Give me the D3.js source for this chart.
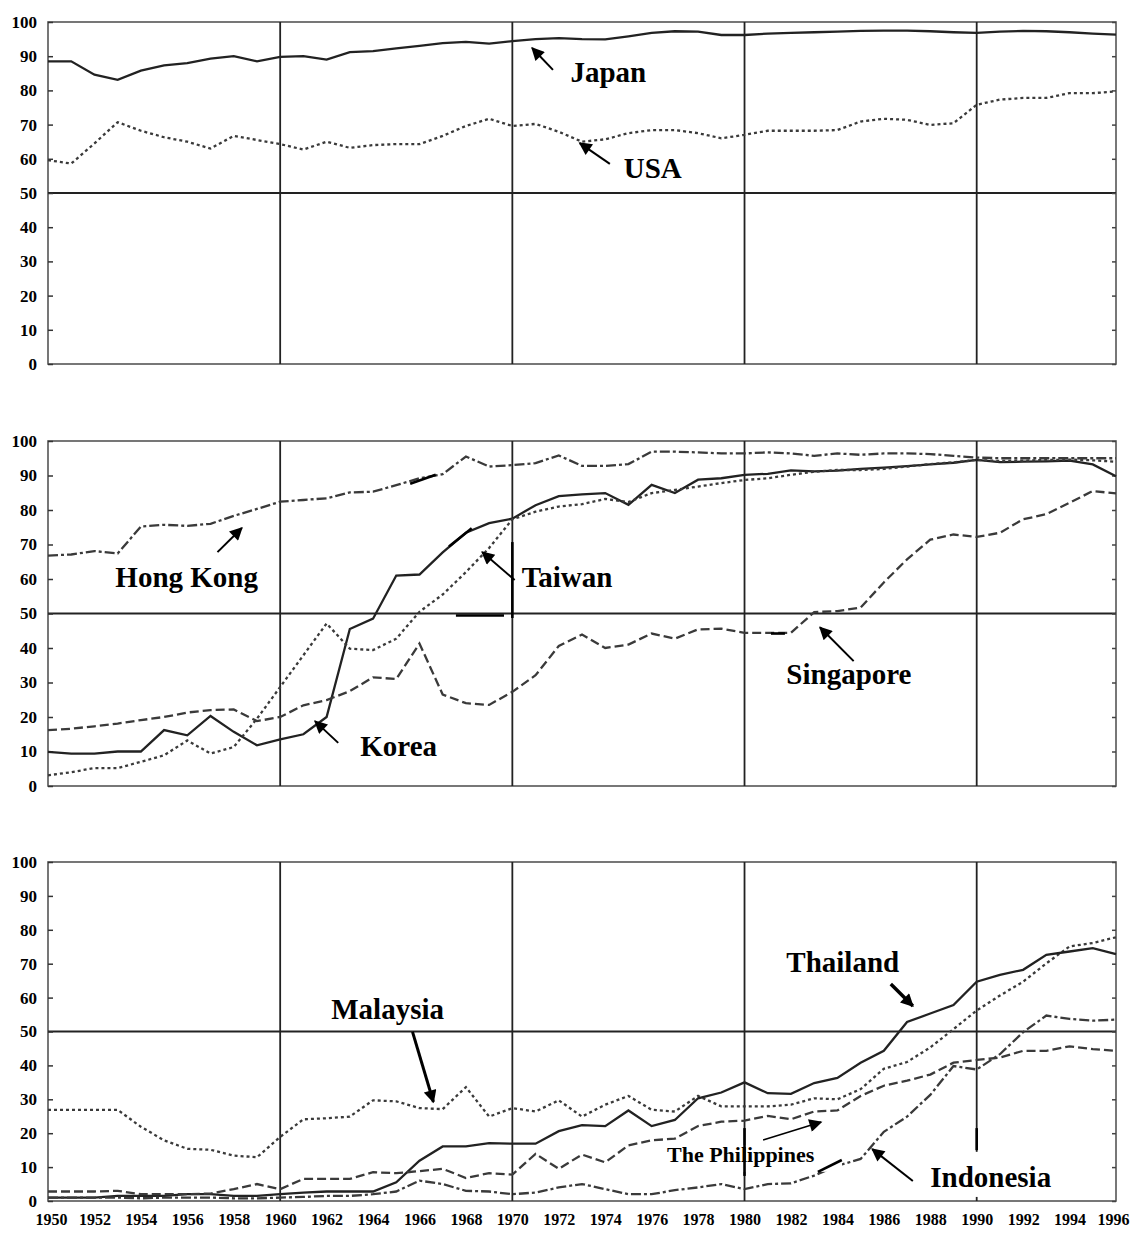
<!DOCTYPE html>
<html>
<head>
<meta charset="utf-8">
<script src="https://cdn.jsdelivr.net/npm/d3@7"></script>
<style>
body { margin: 0; background: #fff; }
</style>
</head>
<body>
<div id="container"></div>
<script>
let w = 1131;
let h = 1233;

// data
let years = d3.range(1950, 1997);
let yTicks = d3.range(0, 101, 10);
let xTicks = d3.range(1950, 1997, 2);
let gridYears = [1960, 1970, 1980, 1990];

let japan = [88.5, 88.5, 84.6, 83.1, 85.8, 87.3, 88, 89.3, 90, 88.5,
  89.8, 90, 89, 91.2, 91.5, 92.3, 93, 93.8, 94.2, 93.7,
  94.4, 95, 95.3, 95, 94.9, 95.8, 96.8, 97.3, 97.2, 96.2,
  96.2, 96.6, 96.8, 97, 97.2, 97.4, 97.5, 97.5, 97.3, 97,
  96.8, 97.2, 97.4, 97.3, 97, 96.6, 96.3];
let usa = [59.6, 58.6, 64.5, 70.7, 68.2, 66.3, 65, 63, 66.7, 65.5,
  64.3, 62.7, 65, 63.2, 64, 64.3, 64.3, 66.7, 69.6, 71.7,
  69.6, 70.2, 67.9, 65, 65.7, 67.5, 68.4, 68.4, 67.5, 66,
  67, 68.2, 68.2, 68.2, 68.4, 70.9, 71.7, 71.4, 69.9, 70.4,
  75.8, 77.3, 77.8, 77.8, 79.2, 79.2, 79.7];

let hongKong = [66.8, 67.1, 68.1, 67.4, 75.2, 75.7, 75.4, 76, 78.3, 80.3,
  82.4, 82.9, 83.4, 85.1, 85.3, 87.2, 89.2, 90.4, 95.5, 92.6,
  93, 93.6, 95.8, 92.8, 92.8, 93.3, 96.9, 96.9, 96.7, 96.4,
  96.4, 96.7, 96.4, 95.7, 96.4, 96, 96.4, 96.4, 96.2, 95.7,
  95.2, 95, 95, 95, 95, 95, 95];
let korea = [9.9, 9.4, 9.4, 10, 10, 16.2, 14.7, 20.3, 15.7, 11.8,
  13.5, 15, 20, 45.5, 48.5, 61, 61.3, 67.7, 73.4, 76.2,
  77.5, 81.4, 84, 84.5, 84.9, 81.5, 87.3, 84.9, 88.8, 89.2,
  90.2, 90.5, 91.5, 91.2, 91.4, 91.9, 92.3, 92.7, 93.2, 93.7,
  94.5, 93.9, 94, 94.1, 94.3, 93.2, 89.8];
let taiwan = [3.1, 4, 5.2, 5.2, 7, 8.9, 13.2, 9.4, 11.3, 19.5,
  28.7, 37.9, 47.1, 39.8, 39.4, 42.7, 50.5, 55.5, 62, 69,
  77.3, 79.5, 81, 81.7, 83.2, 82.3, 84.9, 85.8, 86.8, 87.8,
  88.7, 89.2, 90.2, 91.1, 91.6, 91.6, 91.9, 92.6, 93.3, 93.8,
  94.5, 94.2, 94.3, 94.5, 94.6, 94.4, 94];
let singapore = [16.2, 16.6, 17.3, 18.1, 19.1, 20, 21.3, 22, 22.2, 18.8,
  20, 23.4, 24.9, 27.5, 31.5, 31, 41.3, 26.5, 24, 23.5,
  27.3, 32.1, 40.6, 43.9, 40, 41, 44.2, 42.7, 45.4, 45.6,
  44.4, 44.4, 44.4, 50.4, 50.7, 51.7, 59, 65.7, 71.4, 72.9,
  72.2, 73.4, 77.3, 78.8, 82.1, 85.5, 84.8];

let thailand = [1, 1, 1, 1.5, 1.5, 1.5, 2, 2, 1.5, 1.5,
  2, 2.5, 2.8, 2.8, 2.8, 5.5, 11.9, 16.1, 16.1, 17.1,
  16.9, 16.9, 20.6, 22.4, 22.1, 26.7, 22.1, 23.9, 30.3, 32,
  35, 31.8, 31.6, 34.8, 36.3, 40.8, 44.3, 52.8, 55.3, 57.8,
  64.7, 66.7, 68.2, 72.6, 73.6, 74.6, 72.8];
let malaysia = [26.9, 26.9, 26.9, 26.9, 21.9, 17.9, 15.4, 15.1, 13.4, 12.9,
  18.9, 24.1, 24.4, 24.9, 29.7, 29.4, 27.4, 27.1, 33.6, 24.9,
  27.4, 26.4, 29.7, 24.9, 28.4, 31, 26.9, 26.4, 31, 27.9,
  27.9, 27.9, 28.4, 30.3, 30, 33, 39, 41, 45.3, 50.7,
  56.2, 60.6, 64.7, 70.1, 75.1, 76.1, 77.8];
let philippines = [2.8, 2.8, 2.8, 3, 2, 2, 2, 2.2, 3.5, 5,
  3.5, 6.5, 6.5, 6.5, 8.5, 8.2, 8.8, 9.5, 6.8, 8.2,
  7.8, 13.9, 9.5, 13.7, 11.4, 16.4, 17.9, 18.4, 22.1, 23.4,
  23.7, 25.1, 24.1, 26.4, 26.7, 31, 34, 35.5, 37.3, 40.8,
  41.6, 42.3, 44.3, 44.3, 45.6, 44.8, 44.3];
let indonesia = [1, 1, 1, 1, 0.8, 1, 1, 1, 0.8, 0.8,
  1, 1.2, 1.5, 1.5, 2, 2.8, 6, 5, 3, 2.8,
  2, 2.5, 4, 5, 3.5, 2, 2, 3.2, 4, 5,
  3.5, 5, 5.2, 7.5, 10.4, 12.4, 20.4, 24.9, 31.3, 39.8,
  38.8, 43.3, 49.8, 54.7, 53.7, 53.2, 53.5];

let dashes = {solid: null, dot: "3,3", dash: "9,4", dashdot: "10,3,3,3"};

// panels with their series, label annotations (in data units) and scan retouches
let panels = [
  {top: 22, bottom: 364,
    series: [[japan, "solid"], [usa, "dot"]],
    labels: [
      {text: "Japan", x: 1972.5, y: 82.5, size: 29, from: [1971.75, 86], to: [1970.85, 92.4], sw: 2},
      {text: "USA", x: 1974.8, y: 54.4, size: 29, from: [1974.2, 58.5], to: [1972.9, 64.6], sw: 2}
    ],
    boxes: [], marks: []},
  {top: 441, bottom: 786,
    series: [[hongKong, "dashdot"], [korea, "solid"], [taiwan, "dot"], [singapore, "dash"]],
    labels: [
      {text: "Hong Kong", x: 1952.9, y: 57.7, size: 29, from: [1957.3, 67.8], to: [1958.35, 74.8], sw: 2},
      {text: "Taiwan", x: 1970.4, y: 57.7, size: 29, from: [1970.1, 59.7], to: [1968.7, 67.8], sw: 2},
      {text: "Korea", x: 1963.45, y: 8.7, size: 29, from: [1962.5, 12.5], to: [1961.5, 18.8], sw: 2},
      {text: "Singapore", x: 1981.8, y: 29.6, size: 29, from: [1984.7, 36.2], to: [1983.25, 46], sw: 2}
    ],
    boxes: [],
    marks: [
      [[1965.6, 87.6], [1966.7, 90.2]],
      [[1967.27, 69.4], [1968.25, 74.7]],
      [[1970, 70.7], [1970, 48.7]],
      [[1967.57, 49.4], [1969.64, 49.4]],
      [[1981.14, 44.2], [1981.74, 44.2]]
    ]},
  {top: 862, bottom: 1201,
    series: [[malaysia, "dot"], [thailand, "solid"], [philippines, "dash"], [indonesia, "dashdot"]],
    labels: [
      {text: "Malaysia", x: 1962.2, y: 53.7, size: 29, from: [1965.7, 49.9], to: [1966.6, 29.2], sw: 3},
      {text: "Thailand", x: 1981.8, y: 67.6, size: 29, from: [1986.3, 64], to: [1987.25, 57.5], sw: 3.5},
      {text: "The Philippines", x: 1976.66, y: 11.5, size: 22, from: [1980.8, 18], to: [1983.3, 23.3], sw: 1.5},
      {text: "Indonesia", x: 1988.0, y: 4.1, size: 29, from: [1987.25, 5.9], to: [1985.5, 15.3], sw: 2}
    ],
    boxes: [
      [[1976.4, 16.5], [1984.2, 8.6]],
      [[1986.2, 14.5], [1995.7, 1.2]]
    ],
    marks: [
      [[1980, 21.5], [1980, 7.4]],
      [[1990, 21.5], [1990, 15]],
      [[1983.16, 8.6], [1984.19, 12.1]]
    ]}
];

let viz = d3.select("#container").append("svg")
    .attr("width", w)
    .attr("height", h)
    .style("background-color", "white")
;

// arrow head
viz.append("defs").append("marker")
    .attr("id", "head")
    .attr("viewBox", "0 0 10 10")
    .attr("refX", 9)
    .attr("refY", 5)
    .attr("markerUnits", "userSpaceOnUse")
    .attr("markerWidth", 15)
    .attr("markerHeight", 13)
    .attr("orient", "auto")
  .append("path")
    .attr("d", "M0,0 L10,5 L0,10 z")
    .attr("fill", "#000")
;

let xScale = d3.scaleLinear().domain([1950, 1996]).range([48, 1116]);

panels.forEach(function(p, i){
  let yScale = d3.scaleLinear().domain([0, 100]).range([p.bottom, p.top]);
  let g = viz.append("g").attr("class", "panel");

  // frame
  g.append("rect")
      .attr("x", xScale(1950))
      .attr("y", p.top)
      .attr("width", xScale(1996) - xScale(1950))
      .attr("height", p.bottom - p.top)
      .attr("fill", "none")
      .attr("stroke", "#555")
      .attr("stroke-width", 1.6)
  ;

  // grid
  g.selectAll(".vgrid").data(gridYears).enter().append("line")
      .attr("class", "vgrid")
      .attr("x1", d => xScale(d)).attr("x2", d => xScale(d))
      .attr("y1", p.top).attr("y2", p.bottom)
      .attr("stroke", "#222")
      .attr("stroke-width", 1.8)
  ;
  g.append("line")
      .attr("x1", xScale(1950)).attr("x2", xScale(1996))
      .attr("y1", yScale(50)).attr("y2", yScale(50))
      .attr("stroke", "#222")
      .attr("stroke-width", 1.8)
  ;

  // axes
  let yAxis = d3.axisLeft(yScale).tickValues(yTicks).tickSize(-5).tickPadding(11);
  let yAxisGroup = g.append("g")
      .attr("transform", "translate(" + xScale(1950) + ",0)")
      .call(yAxis)
  ;
  yAxisGroup.select(".domain").remove();
  yAxisGroup.attr("font-family", "Liberation Serif").attr("font-size", 17).attr("font-weight", "bold");
  yAxisGroup.selectAll("line").attr("stroke", "#333").attr("stroke-width", 1.5);

  let rAxisGroup = g.append("g")
      .attr("transform", "translate(" + xScale(1996) + ",0)")
      .call(d3.axisRight(yScale).tickValues(yTicks).tickSize(-4).tickFormat(""))
  ;
  rAxisGroup.select(".domain").remove();
  rAxisGroup.selectAll("line").attr("stroke", "#444").attr("stroke-width", 1.5);

  if (i == panels.length - 1) {
    let xAxisGroup = g.append("g")
        .attr("transform", "translate(0," + p.bottom + ")")
        .call(d3.axisBottom(xScale).tickValues(xTicks).tickSize(0).tickPadding(13).tickFormat(d3.format("d")))
    ;
    xAxisGroup.select(".domain").remove();
    xAxisGroup.attr("font-family", "Liberation Serif").attr("font-size", 16).attr("font-weight", "bold");
    xAxisGroup.selectAll("text").filter(d => d == 1950).attr("dx", 3);
    xAxisGroup.selectAll("text").filter(d => d == 1996).attr("dx", -3);
  }

  // series
  let line = d3.line()
      .x((d, j) => xScale(years[j]))
      .y(d => yScale(d))
  ;
  g.selectAll(".series").data(p.series).enter().append("path")
      .attr("class", "series")
      .attr("d", d => line(d[0]))
      .attr("fill", "none")
      .attr("stroke", d => d[1] == "solid" ? "#222" : "#3a3a3a")
      .attr("stroke-width", 2.3)
      .attr("stroke-dasharray", d => dashes[d[1]])
  ;

  // white-out boxes from the scan
  g.selectAll(".box").data(p.boxes).enter().append("rect")
      .attr("class", "box")
      .attr("x", d => xScale(d[0][0]))
      .attr("y", d => yScale(d[0][1]))
      .attr("width", d => xScale(d[1][0]) - xScale(d[0][0]))
      .attr("height", d => yScale(d[1][1]) - yScale(d[0][1]))
      .attr("fill", "white")
  ;

  // hand retouched strokes
  g.selectAll(".mark").data(p.marks).enter().append("line")
      .attr("class", "mark")
      .attr("x1", d => xScale(d[0][0])).attr("y1", d => yScale(d[0][1]))
      .attr("x2", d => xScale(d[1][0])).attr("y2", d => yScale(d[1][1]))
      .attr("stroke", "#000")
      .attr("stroke-width", 2.6)
  ;

  // labels and arrows
  let labels = g.selectAll(".label").data(p.labels).enter().append("g").attr("class", "label");
  labels.append("text")
      .attr("x", d => xScale(d.x))
      .attr("y", d => yScale(d.y))
      .attr("font-family", "Liberation Serif")
      .attr("font-weight", "bold")
      .attr("font-size", d => d.size)
      .attr("fill", "#000")
      .text(d => d.text)
  ;
  labels.append("line")
      .attr("x1", d => xScale(d.from[0])).attr("y1", d => yScale(d.from[1]))
      .attr("x2", d => xScale(d.to[0])).attr("y2", d => yScale(d.to[1]))
      .attr("stroke", "#000")
      .attr("stroke-width", d => d.sw)
      .attr("marker-end", "url(#head)")
  ;
});
</script>
</body>
</html>
